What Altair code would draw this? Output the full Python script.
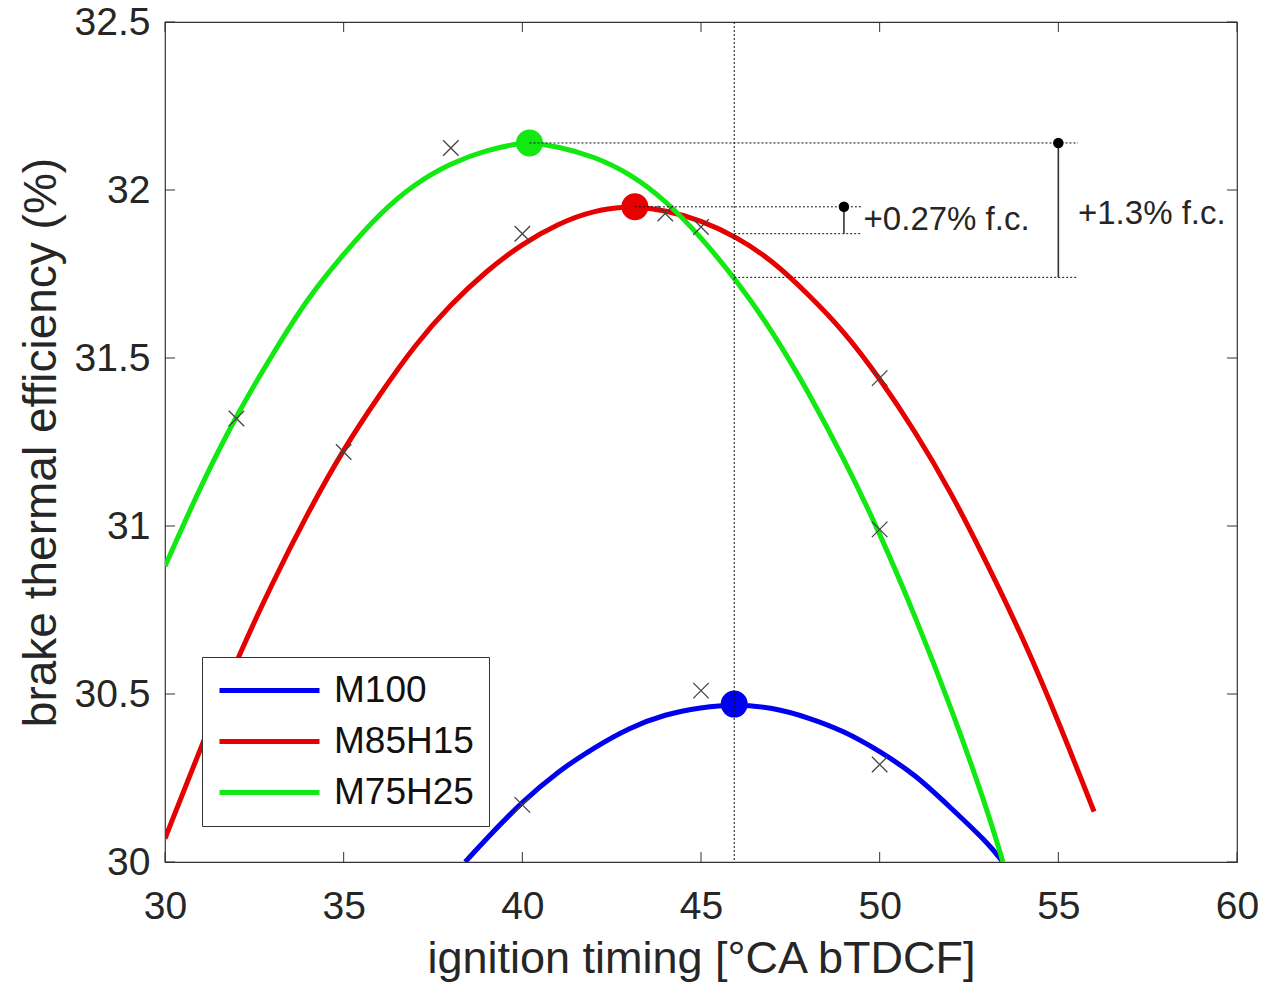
import altair as alt
import pandas as pd

# ---------------- data ----------------
series_names = ["M100", "M85H15", "M75H25"]
series_colors = ["#0000f0", "#e60000", "#12e812"]

# fitted curves
m100_x = [38.4, 39, 40, 41, 42, 43, 44, 45, 45.93, 47, 48, 49, 50, 51, 52, 53, 53.45]
m100_y = [30.00, 30.07, 30.18, 30.27, 30.34, 30.40, 30.44, 30.46, 30.47, 30.46, 30.43, 30.39, 30.33, 30.26, 30.16, 30.06, 30.00]

m85_x = [30, 31, 32, 33, 34, 35, 36, 37, 38, 39, 40, 41, 42, 43, 43.15, 44, 45, 46, 47, 48, 49, 50, 51, 52, 53, 54, 55, 56]
m85_y = [30.07, 30.34, 30.60, 30.83, 31.04, 31.23, 31.39, 31.54, 31.66, 31.76, 31.84, 31.90, 31.94, 31.95, 31.95, 31.94, 31.91, 31.86, 31.79, 31.69, 31.58, 31.44, 31.28, 31.10, 30.89, 30.67, 30.42, 30.15]

m75_x = [30, 31, 32, 33, 34, 35, 36, 37, 38, 39, 40, 40.2, 41, 42, 43, 44, 45, 46, 47, 48, 49, 50, 51, 52, 53, 53.45]
m75_y = [30.88, 31.12, 31.33, 31.51, 31.68, 31.81, 31.93, 32.02, 32.08, 32.12, 32.14, 32.14, 32.13, 32.10, 32.05, 31.97, 31.86, 31.73, 31.58, 31.40, 31.20, 30.98, 30.73, 30.46, 30.16, 30.00]

# measured points (crosses)
meas_x = [40, 45, 50, 35, 40, 44, 50, 32, 38, 45, 50]
meas_y = [30.17, 30.51, 30.29, 31.22, 31.87, 31.93, 31.44, 31.32, 32.125, 31.89, 30.99]

# optimum points (big dots)
peak_x = [45.93, 43.15, 40.2]
peak_y = [30.47, 31.95, 32.14]

# dotted reference lines
vline_x = [45.93]
hline_y = [32.14, 31.95, 31.87, 31.74]
hline_x1 = [40.2, 43.15, 45.93, 45.93]
hline_x2 = [55.55, 49.5, 49.5, 55.55]

# difference stems
stem_x = [49, 55]
stem_top = [31.95, 32.14]
stem_bot = [31.87, 31.74]

# annotations
ann_text = ["+0.27% f.c.", "+1.3% f.c."]
ann_x = [49.55, 55.55]
ann_y = [31.91, 31.93]

x_ticks = [30, 35, 40, 45, 50, 55, 60]
y_ticks = [30, 30.5, 31, 31.5, 32, 32.5]

# ---------------- tables ----------------
curves = pd.concat([
    pd.DataFrame({"x": m100_x, "y": m100_y, "series": "M100"}),
    pd.DataFrame({"x": m85_x, "y": m85_y, "series": "M85H15"}),
    pd.DataFrame({"x": m75_x, "y": m75_y, "series": "M75H25"}),
], ignore_index=True)
meas = pd.DataFrame({"x": meas_x, "y": meas_y})
peaks = pd.DataFrame({"x": peak_x, "y": peak_y, "peak": series_names})
vlines = pd.DataFrame({"x": vline_x})
hlines = pd.DataFrame({"y": hline_y, "x": hline_x1, "x2": hline_x2})
stems = pd.DataFrame({"x": stem_x, "top": stem_top, "bot": stem_bot})
ann = pd.DataFrame({"text": ann_text, "x": ann_x, "y": ann_y})
xt = pd.DataFrame({"v": x_ticks})
yt = pd.DataFrame({"v": y_ticks})

FONT = "Liberation Sans"
TXT = "#262626"
W, H = 1072, 840

xscale = alt.Scale(domain=[30, 60], nice=False, zero=False)
yscale = alt.Scale(domain=[30, 32.5], nice=False, zero=False)

xaxis = alt.Axis(values=x_ticks, format="d", grid=False, domain=False, ticks=False, tickSize=0,
                 labelFontSize=39, labelColor=TXT, labelFont=FONT, labelPadding=25, labelFlush=False,
                 title="ignition timing [°CA bTDCF]", titleFont=FONT, titleFontSize=45,
                 titleFontWeight="normal", titleColor=TXT, titleBaseline="alphabetic",
                 titleY=110, titleX=W / 2, titleAlign="center")
yaxis = alt.Axis(values=y_ticks, format=".1~f", grid=False, domain=False, ticks=False, tickSize=0,
                 labelFontSize=39, labelColor=TXT, labelFont=FONT, labelPadding=15, labelFlush=False,
                 title="brake thermal efficiency (%)", titleFont=FONT, titleFontSize=46,
                 titleFontWeight="normal", titleColor=TXT, titleBaseline="middle",
                 titleX=-124, titleY=H / 2, titleAngle=270, titleAlign="center")

X = alt.X("x:Q", scale=xscale, axis=xaxis)
Y = alt.Y("y:Q", scale=yscale, axis=yaxis)

lines = alt.Chart(curves).mark_line(strokeWidth=5, clip=True, interpolate="basis").encode(
    x=X, y=Y,
    color=alt.Color("series:N", scale=alt.Scale(domain=series_names, range=series_colors),
                    sort=series_names,
                    legend=alt.Legend(title=None, orient="none", legendX=37, legendY=635,
                                      strokeColor="#333333", fillColor="white", padding=15,
                                      symbolType="stroke", symbolStrokeWidth=5, symbolSize=10000,
                                      labelFontSize=37, labelFont=FONT, labelColor="#111111",
                                      labelOffset=12, rowPadding=13, clipHeight=37,
                                      cornerRadius=0)),
)

peak_pts = alt.Chart(peaks).mark_point(filled=True, shape="circle", size=730, opacity=1).encode(
    x=alt.X("x:Q", scale=xscale), y=alt.Y("y:Q", scale=yscale),
    fill=alt.Fill("peak:N", scale=alt.Scale(domain=series_names, range=series_colors), legend=None),
)

vrule = alt.Chart(vlines).mark_rule(color="#111111", strokeWidth=1, strokeDash=[2, 2]).encode(
    x=alt.X("x:Q", scale=xscale))
hrule = alt.Chart(hlines).mark_rule(color="#111111", strokeWidth=1, strokeDash=[2, 2]).encode(
    y=alt.Y("y:Q", scale=yscale), x=alt.X("x:Q", scale=xscale), x2="x2:Q")

crosses = alt.Chart(meas).mark_point(shape="M-1,-1L1,1M1,-1L-1,1", size=240, filled=False,
                                     stroke="#444444", strokeWidth=1.3, opacity=1).encode(
    x=alt.X("x:Q", scale=xscale), y=alt.Y("y:Q", scale=yscale))

stem_lines = alt.Chart(stems).mark_rule(color="#333333", strokeWidth=1.6).encode(
    x=alt.X("x:Q", scale=xscale), y=alt.Y("top:Q", scale=yscale), y2="bot:Q")
stem_dots = alt.Chart(stems).mark_point(filled=True, shape="circle", size=110, color="black",
                                        opacity=1).encode(
    x=alt.X("x:Q", scale=xscale), y=alt.Y("top:Q", scale=yscale))

labels = alt.Chart(ann).mark_text(align="left", baseline="middle", fontSize=33, font=FONT,
                                  color=TXT).encode(
    x=alt.X("x:Q", scale=xscale), y=alt.Y("y:Q", scale=yscale), text="text:N")

# inward tick marks (MATLAB style box ticks)
tk = dict(color="#333333", strokeWidth=1)
tick_b = alt.Chart(xt).mark_rule(**tk).encode(x=alt.X("v:Q", scale=xscale), y=alt.value(H), y2=alt.value(H - 10))
tick_t = alt.Chart(xt).mark_rule(**tk).encode(x=alt.X("v:Q", scale=xscale), y=alt.value(0), y2=alt.value(10))
tick_l = alt.Chart(yt).mark_rule(**tk).encode(y=alt.Y("v:Q", scale=yscale), x=alt.value(0), x2=alt.value(10))
tick_r = alt.Chart(yt).mark_rule(**tk).encode(y=alt.Y("v:Q", scale=yscale), x=alt.value(W), x2=alt.value(W - 10))

chart = alt.layer(
    lines, peak_pts, vrule, hrule, crosses, stem_lines, stem_dots, labels,
    tick_b, tick_t, tick_l, tick_r,
).resolve_scale(color="independent", fill="independent").properties(
    width=W, height=H,
    autosize=alt.AutoSizeParams(type="none"),
    padding={"left": 157, "top": 14, "right": 21, "bottom": 125},
    background="white",
).configure_view(stroke="#333333", strokeWidth=1.2)

chart.save("out.html", embed_options={"renderer": "svg", "actions": False})
